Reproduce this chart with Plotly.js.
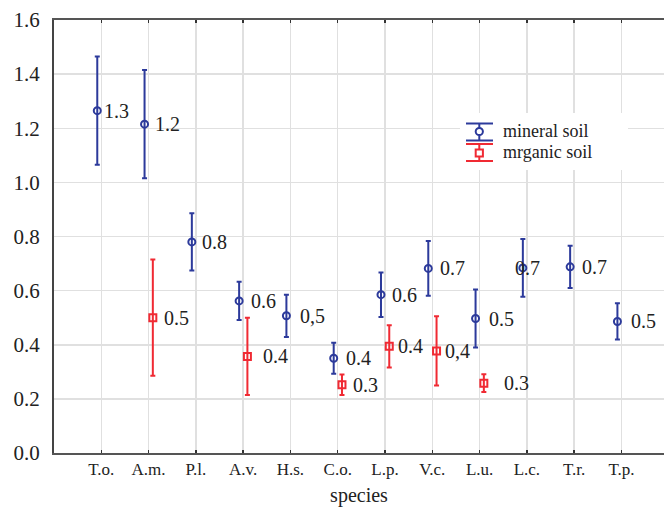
<!DOCTYPE html>
<html>
<head>
<meta charset="utf-8">
<script src="https://cdn.plot.ly/plotly-3.0.1.min.js"></script>
<style>html,body{margin:0;padding:0;background:#fff;}#chart{width:664px;height:507px;}</style>
</head>
<body>
<div id="chart"></div>
<script>
// ---- data ----
const species = ["T.o.","A.m.","P.l.","A.v.","H.s.","C.o.","L.p.","V.c.","L.u.","L.c.","T.r.","T.p."];
const mineralMean = [1.265,1.215,0.78,0.562,0.507,0.35,0.585,0.682,0.497,0.684,0.688,0.486];
const mineralErr  = [0.2,0.2,0.106,0.071,0.078,0.057,0.082,0.101,0.107,0.107,0.078,0.067];
const mineralLabels = ["1.3","1.2","0.8","0.6","0,5","0.4","0.6","0.7","0.5","0.7","0.7","0.5"];
const organicMean = [null,0.5,null,0.357,null,0.252,0.394,0.377,0.258,null,null,null];
const organicErr  = [null,0.215,null,0.143,null,0.038,0.078,0.128,0.033,null,null,null];
const organicLabels = [null,"0.5",null,"0.4",null,"0.3","0.4","0,4","0.3",null,null,null];
const seriesNames = ["mineral soil","mrganic soil"];
const yTicks = [0,0.2,0.4,0.6,0.8,1.0,1.2,1.4,1.6];

// ---- style ----
const blue = "#2c3a9b";
const red = "#f02a33";
const font = "Liberation Serif";
const txt = "#222";
const shiftM = -0.085, shiftO = 0.09;
const gapM = [5,8,8,10,12,10,9,10,11,-10,10,12];
const gapO = [0,9,0,14,0,9,7,6,18,0,0,0];

const idx = species.map((s,i)=>i);
const xM = idx.map(i=>i+shiftM);
const xO = idx.map(i=>i+shiftO);

const traces = [
  {type:"scatter", mode:"markers", name:seriesNames[0], x:xM, y:mineralMean,
   marker:{symbol:"circle-open", size:7, color:blue, line:{width:2, color:blue}},
   error_y:{type:"data", array:mineralErr, visible:true, color:blue, thickness:2, width:2.5}},
  {type:"scatter", mode:"markers", name:seriesNames[1], x:xO, y:organicMean,
   marker:{symbol:"square-open", size:7, color:red, line:{width:2, color:red}},
   error_y:{type:"data", array:organicErr, visible:true, color:red, thickness:2, width:2.5}}
];

const annotations = [];
mineralLabels.forEach((t,i)=>{
  if(t===null) return;
  annotations.push({x:xM[i], y:mineralMean[i], text:t, showarrow:false, xanchor:"left", yanchor:"middle",
    xshift:gapM[i], font:{family:font, size:20, color:txt}});
});
organicLabels.forEach((t,i)=>{
  if(t===null || organicMean[i]===null) return;
  annotations.push({x:xO[i], y:organicMean[i], text:t, showarrow:false, xanchor:"left", yanchor:"middle",
    xshift:gapO[i], font:{family:font, size:20, color:txt}});
});

// ---- legend (drawn by hand so the glyph shows the error bar) ----
const L=54, W=610, B=453, H=433;
const px = v=>(v-L)/W, py = v=>(B-v)/H;
const shapes = [
  {type:"rect", xref:"paper", yref:"paper", x0:px(460), x1:px(628), y0:py(170), y1:py(113),
   fillcolor:"#fff", line:{width:0}}
];
const legendItems = [
  {color:blue, cy:131.5, top:123.5, bot:140.5, sym:"circle"},
  {color:red,  cy:153,   top:144,   bot:161,   sym:"square"}
];
legendItems.forEach((it,k)=>{
  const cx = 479.3;
  shapes.push({type:"line", xref:"paper", yref:"paper", x0:px(cx), x1:px(cx), y0:py(it.top), y1:py(it.bot), line:{color:it.color, width:2}});
  shapes.push({type:"line", xref:"paper", yref:"paper", x0:px(466), x1:px(493), y0:py(it.top), y1:py(it.top), line:{color:it.color, width:2}});
  shapes.push({type:"line", xref:"paper", yref:"paper", x0:px(466), x1:px(493), y0:py(it.bot), y1:py(it.bot), line:{color:it.color, width:2}});
  shapes.push({type:it.sym==="circle"?"circle":"rect", xref:"paper", yref:"paper",
    x0:px(cx-3.6), x1:px(cx+3.6), y0:py(it.cy+3.6), y1:py(it.cy-3.6), fillcolor:"#fff", line:{color:it.color, width:2}});
  annotations.push({xref:"paper", yref:"paper", x:px(501), y:py(it.cy-0.5), text:seriesNames[k], showarrow:false,
    xanchor:"left", yanchor:"middle", font:{family:font, size:18, color:txt}});
});

const layout = {
  width:664, height:507,
  margin:{l:54, r:0, t:20, b:54, pad:0},
  paper_bgcolor:"#fff", plot_bgcolor:"#fff",
  font:{family:font, size:20, color:txt},
  showlegend:false,
  xaxis:{range:[-1,11.9], tickvals:idx, ticktext:species, showgrid:true, gridcolor:"#e0e0e0", gridwidth:1.5,
         zeroline:false, showline:true, linecolor:"#555", linewidth:2, mirror:"ticks",
         ticks:"inside", ticklen:3, tickcolor:"#333", tickwidth:1.5,
         tickfont:{family:font, size:17, color:txt},
         title:{text:"species", font:{family:font, size:20, color:txt}, standoff:16}},
  yaxis:{range:[0,1.6], tickvals:yTicks, ticktext:yTicks.map(v=>v.toFixed(1)),
         showgrid:true, gridcolor:"#e0e0e0", gridwidth:1.5, zeroline:false,
         showline:true, linecolor:"#444", linewidth:2, ticks:"", ticklabelstandoff:8,
         tickfont:{family:font, size:21, color:txt}},
  shapes:shapes,
  annotations:annotations
};

Plotly.newPlot("chart", traces, layout, {displayModeBar:false, staticPlot:true});
</script>
</body>
</html>
